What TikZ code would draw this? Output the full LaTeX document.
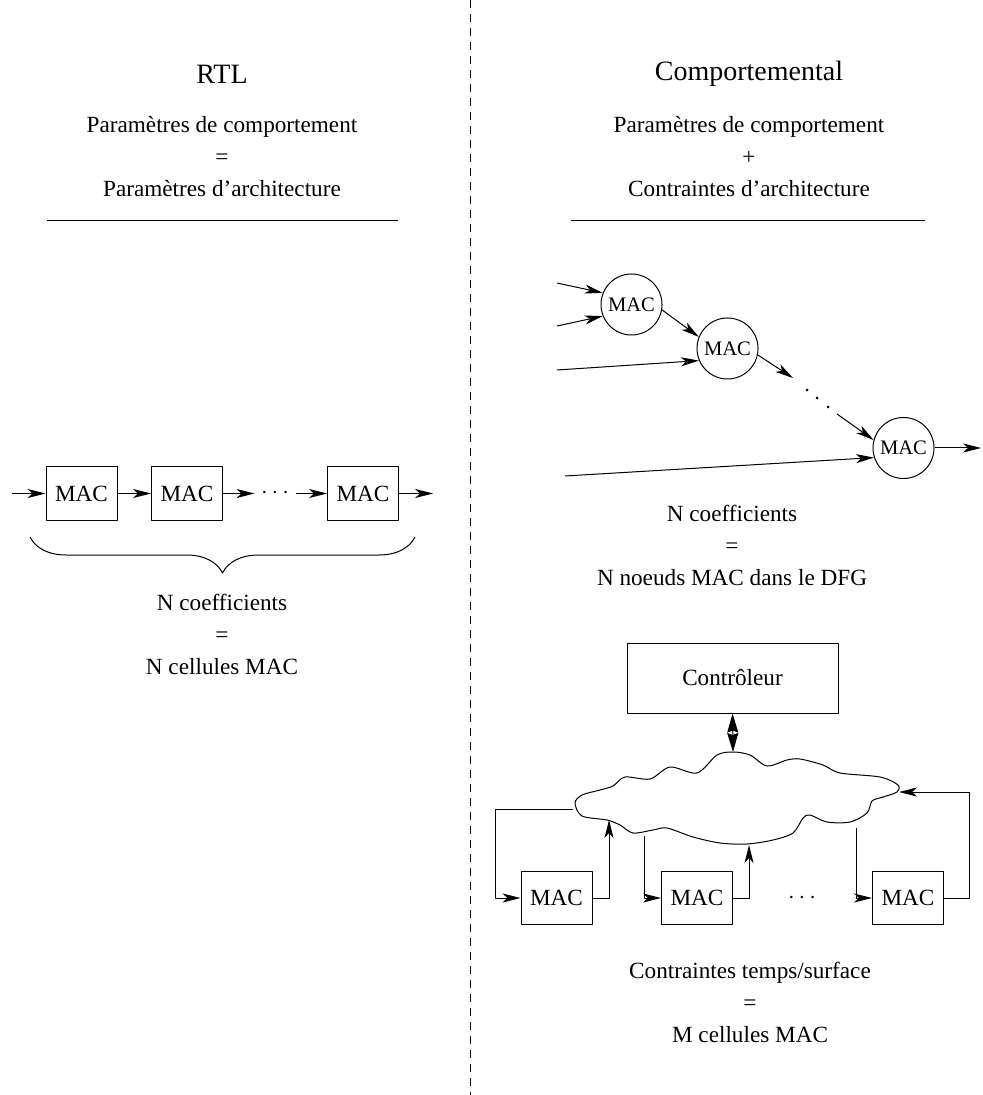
\documentclass[tikz,border=0pt]{standalone}
\usepackage{fontspec}
\setmainfont{Liberation Serif}
\usetikzlibrary{arrows.meta,decorations.pathreplacing}
\tikzset{
  >={Stealth[length=9pt,width=4.5pt,inset=2.5pt]},
  txt/.style={font=\fontsize{11.6}{16}\selectfont, align=center, inner sep=0pt},
  titre/.style={font=\fontsize{14}{17}\selectfont, inner sep=0pt},
  points/.style={font=\fontsize{11.6}{14}\selectfont, inner sep=3pt},
  mac/.style={draw, minimum width=35.5pt, minimum height=26.5pt, inner sep=0pt, font=\fontsize{11.6}{14}\selectfont},
  macdfg/.style={draw, circle, minimum size=30.5pt, inner sep=0pt, font=\fontsize{10.3}{12}\selectfont},
}

\begin{document}
\begin{tikzpicture}[x=0.5pt, y=-0.5pt, line width=0.5pt, line join=round]
\useasboundingbox (0,0) rectangle (982,1095);
\draw[dash pattern=on 4pt off 3pt] (470,0) -- (470,1095);

% RTL
\node[titre] (rtl) at (222,74) {RTL};
\node[txt] (rtlparam) at (222,157) {Paramètres de comportement\\=\\Paramètres d'architecture};
\draw (47,221) -- (398,221);

\node[mac] (a1) at (81.5,493.5) {MAC};
\node[mac] (a2) at (187,493.5) {MAC};
\node[points] (adots) at (275,493.5) {$\cdots$};
\node[mac] (a3) at (363,493.5) {MAC};
\coordinate (ain) at (12,493.5);
\coordinate (aout) at (433,493.5);
\draw[->] (ain) -- (a1);
\draw[->] (a1) -- (a2);
\draw[->] (a2) -- (adots);
\draw[->] (adots) -- (a3);
\draw[->] (a3) -- (aout);

\draw[decorate, decoration={brace, mirror, amplitude=18pt}] (30,537) -- (415,537);
\node[txt] (rtlbas) at (222,634) {N coefficients\\=\\N cellules MAC};

% Comportemental
\node[titre] (comp) at (749,74) {Comportemental};
\node[txt] (compparam) at (749,157) {Paramètres de comportement\\+\\Contraintes d'architecture};
\draw (571,221) -- (925,221);

\node[macdfg] (m1) at (631.5,304.5) {MAC};
\node[macdfg] (m2) at (727.5,348.5) {MAC};
\node[macdfg] (m3) at (903.5,448) {MAC};
\coordinate (e1) at (557,283);
\coordinate (e2) at (557,326);
\coordinate (e3) at (557,370);
\coordinate (e4) at (565,476);
\coordinate (s3) at (981,448);
\coordinate (d1) at (793,378);
\coordinate (d2) at (837,414);
\draw[->] (e1) -- (m1.158);
\draw[->] (e2) -- (m1.202);
\draw[->] (e3) -- (m2.203);
\draw[->] (e4) -- (m3.198);
\draw[->] (m1.-10) -- (m2.158);
\draw[->] (m2.-12) -- (d1);
\foreach \p in {(807,390),(817,398),(828,407)}
  \fill \p circle (1.5);
\draw[->] (d2) -- (m3.165);
\draw[->] (m3.east) -- (s3);
\node[txt] (dfgbas) at (732,545) {N coefficients\\=\\N noeuds MAC dans le DFG};

\node[txt, draw, minimum width=105.5pt, minimum height=35pt] (ctrl) at (732.5,678) {Contrôleur};
\coordinate (ctop) at (733,752);
\draw[{Stealth[length=9.5pt,width=5.5pt,inset=1pt]}-{Stealth[length=9.5pt,width=5.5pt,inset=1pt]}] (ctrl.south) -- (ctop);

\draw plot[smooth cycle, tension=0.5] coordinates {
  (575,803) (582,795) (600,790) (613,786) (625,777) (650,779) (670,767)
  (697,773) (717,755) (733,752) (750,755) (767,766) (787,760) (800,759)
  (823,765) (840,773) (880,777) (898,785) (897,792) (883,797) (872,801)
  (867,813) (850,822) (827,822) (810,815) (803,818) (793,833) (773,840)
  (747,844) (720,843) (693,837) (667,828) (653,830) (633,833) (620,825)
  (607,820) (582,816)};

\node[mac] (b1) at (556.5,898) {MAC};
\node[mac] (b2) at (697,898) {MAC};
\node[points] (bdots) at (802,898) {$\cdots$};
\node[mac] (b3) at (908,898) {MAC};
\coordinate (cl) at (573,809);
\coordinate (g1) at (495,809);
\coordinate (cb1) at (609,820);
\coordinate (cb2) at (644,836);
\coordinate (cb3) at (749,845);
\coordinate (cb4) at (856,828);
\coordinate (cr) at (899,792);
\coordinate (g3) at (969,792);
\draw[->] (cl) -- (g1) |- (b1.west);
\draw[->] (b1.east) -| (cb1);
\draw[->] (cb2) |- (b2.west);
\draw[->] (b2.east) -| (cb3);
\draw[->] (cb4) |- (b3.west);
\draw[->] (b3.east) -| (g3) -- (cr);
\node[txt] (surf) at (750,1002) {Contraintes temps/surface\\=\\M cellules MAC};
\end{tikzpicture}
\end{document}
